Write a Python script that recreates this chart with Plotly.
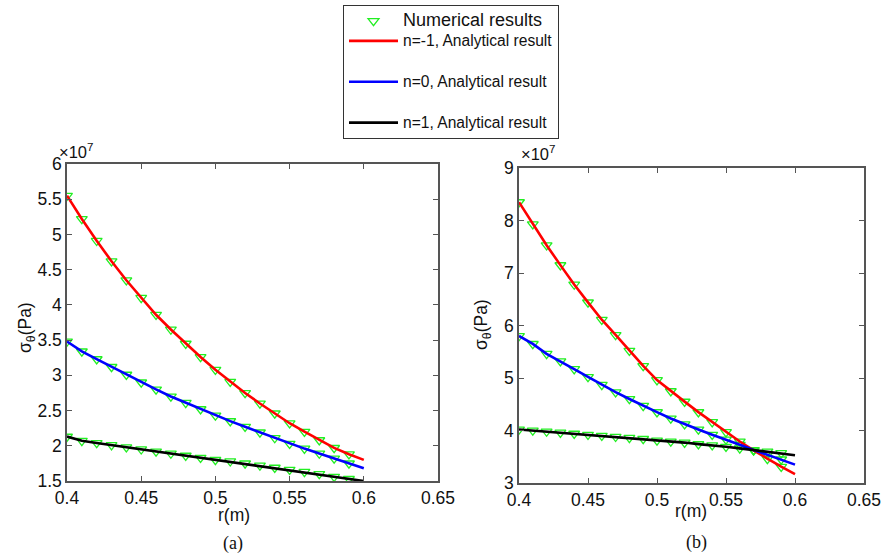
import plotly.graph_objects as go

# radius (m)
r_analytic = [0.40, 0.41, 0.42, 0.43, 0.44, 0.45, 0.46, 0.47, 0.48, 0.49, 0.50,
              0.51, 0.52, 0.53, 0.54, 0.55, 0.56, 0.57, 0.58, 0.59, 0.60]
r_numeric = r_analytic[:-1]

# hoop stress, units of 1e7 Pa  -- case (a)
a_n_m1 = [5.55, 5.22, 4.91, 4.62, 4.35, 4.10, 3.86, 3.65, 3.45, 3.26, 3.08,
          2.91, 2.75, 2.60, 2.46, 2.32, 2.20, 2.08, 1.97, 1.88, 1.80]
a_n_0 = [3.48, 3.34, 3.23, 3.12, 3.01, 2.90, 2.80, 2.70, 2.61, 2.52, 2.43,
         2.35, 2.27, 2.19, 2.11, 2.03, 1.96, 1.89, 1.82, 1.75, 1.68]
a_n_1 = [2.13, 2.07, 2.04, 2.01, 1.98, 1.95, 1.92, 1.89, 1.86, 1.83, 1.80,
         1.78, 1.75, 1.72, 1.69, 1.66, 1.63, 1.60, 1.56, 1.53, 1.50]

# case (b)
b_n_m1 = [8.35, 7.93, 7.53, 7.15, 6.78, 6.44, 6.11, 5.82, 5.52, 5.23, 4.96,
          4.75, 4.55, 4.35, 4.16, 3.97, 3.79, 3.62, 3.46, 3.31, 3.17]
b_n_0 = [5.80, 5.65, 5.46, 5.32, 5.17, 5.02, 4.87, 4.73, 4.60, 4.47, 4.35,
         4.23, 4.12, 4.02, 3.92, 3.83, 3.73, 3.63, 3.54, 3.45, 3.35]
b_n_1 = [4.02, 4.00, 3.98, 3.96, 3.94, 3.92, 3.90, 3.88, 3.86, 3.84, 3.81,
         3.79, 3.77, 3.74, 3.72, 3.69, 3.66, 3.63, 3.60, 3.57, 3.53]

x_ticks = [0.4, 0.45, 0.5, 0.55, 0.6, 0.65]
x_ticklabels = ["0.4", "0.45", "0.5", "0.55", "0.6", "0.65"]
ya_ticks = [1.5, 2, 2.5, 3, 3.5, 4, 4.5, 5, 5.5, 6]
ya_ticklabels = ["1.5", "2", "2.5", "3", "3.5", "4", "4.5", "5", "5.5", "6"]
yb_ticks = [3, 4, 5, 6, 7, 8, 9]
yb_ticklabels = ["3", "4", "5", "6", "7", "8", "9"]

series_names = ["n=-1, Analytical result", "n=0, Analytical result", "n=1, Analytical result"]
line_colors = ["#ff0000", "#0000ff", "#000000"]
groups = ["g1", "g2", "g3"]
marker_color = "#22ee22"
FONT = "Liberation Sans"

fig = go.Figure()

panels = [("x", "y", [a_n_m1, a_n_0, a_n_1]), ("x2", "y2", [b_n_m1, b_n_0, b_n_1])]

# numerical markers (drawn below lines)
first = True
for xa, ya, sets in panels:
    for vals in sets:
        fig.add_trace(go.Scatter(
            x=r_numeric, y=vals[:-1], xaxis=xa, yaxis=ya, mode="markers",
            marker=dict(symbol="triangle-down-open", size=9.5, color=marker_color,
                        line=dict(width=1.3, color=marker_color)),
            name='<span style="font-size:18px">Numerical results</span>',
            legendgroup="g1", showlegend=first))
        first = False

# analytical lines
for pi, (xa, ya, sets) in enumerate(panels):
    for i, vals in enumerate(sets):
        fig.add_trace(go.Scatter(
            x=r_analytic, y=vals, xaxis=xa, yaxis=ya, mode="lines",
            line=dict(color=line_colors[i], width=2.6),
            name='<span style="font-size:15.6px">' + series_names[i] + '</span>',
            legendgroup=groups[i], showlegend=(pi == 0)))

axis_common = dict(showgrid=False, zeroline=False, showline=True, mirror="ticks",
                   linecolor="#555555", linewidth=1.5, ticks="inside", ticklen=5,
                   tickcolor="#555555", tickwidth=1, automargin=False,
                   tickfont=dict(family=FONT, size=17.5, color="#111111"))

fig.update_layout(
    width=888, height=557,
    margin=dict(l=0, r=0, t=0, b=0, autoexpand=False),
    paper_bgcolor="white", plot_bgcolor="white",
    font=dict(family=FONT, color="#111111"),
    xaxis=dict(domain=[67/888, 438/888], range=[0.4, 0.65], tickvals=x_ticks,
               ticktext=x_ticklabels, anchor="y", **axis_common),
    yaxis=dict(domain=[(557-481)/557, (557-164)/557], range=[1.5, 6], tickvals=ya_ticks,
               ticktext=ya_ticklabels, anchor="x", **axis_common),
    xaxis2=dict(domain=[519/888, 864/888], range=[0.4, 0.65], tickvals=x_ticks,
                ticktext=x_ticklabels, anchor="y2", **axis_common),
    yaxis2=dict(domain=[(557-483)/557, (557-168)/557], range=[3, 9], tickvals=yb_ticks,
                ticktext=yb_ticklabels, anchor="x2", **axis_common),
    legend=dict(x=343/888, y=1-5/557, xanchor="left", yanchor="top",
                bordercolor="#333333", borderwidth=1, bgcolor="white",
                font=dict(family=FONT, size=13, color="#111111"),
                traceorder="grouped", tracegroupgap=21, itemwidth=49),
    showlegend=True,
)

ann = []
def add_text(x, y, text, size, angle=0, family=FONT):
    ann.append(dict(x=x/888, y=1-y/557, xref="paper", yref="paper", text=text,
                    showarrow=False, textangle=angle, xanchor="center", yanchor="middle",
                    font=dict(size=size, family=family, color="#111111")))

add_text(26, 328, "σ<sub>θ</sub>(Pa)", 17.5, angle=-90)
add_text(482, 325, "σ<sub>θ</sub>(Pa)", 17.5, angle=-90)
add_text(234, 515, "r(m)", 17.5)
add_text(691, 511, "r(m)", 17.5)
add_text(76, 151, "×10<sup>7</sup>", 16.5)
add_text(538, 153, "×10<sup>7</sup>", 16.5)
add_text(233, 543, "(a)", 18, family="Liberation Serif")
add_text(696, 542, "(b)", 18, family="Liberation Serif")
fig.update_layout(annotations=ann)

fig.write_html("out.html", config={"displayModeBar": False},
               post_script="document.body.style.margin='0';document.body.style.overflow='hidden';")
